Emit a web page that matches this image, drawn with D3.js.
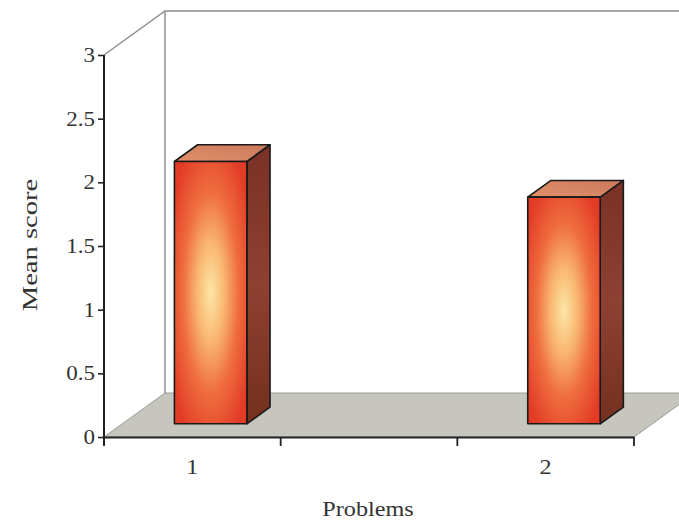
<!DOCTYPE html>
<html>
<head>
<meta charset="utf-8">
<script src="https://cdn.jsdelivr.net/npm/d3@7"></script>
<style>
  html, body { margin: 0; padding: 0; background: #fff; }
  svg { display: block; }
  text { font-family: "Liberation Serif", "Times New Roman", serif; fill: #333; }
</style>
</head>
<body>
<svg id="chart" width="679" height="522"></svg>
<script>
// Chart data
const categories = ["1", "", "2"];
const meanScores = [2.06, null, 1.78];
const yTicks = [0, 0.5, 1, 1.5, 2, 2.5, 3];
const yTickLabels = ["0", "0.5", "1", "1.5", "2", "2.5", "3"];
const xTitle = "Problems";
const yTitle = "Mean score";

const svg = d3.select("#chart");
const W = 679, H = 522;

// Plot frame and oblique depth offset
const plotLeft = 104, plotRight = 634, plotBottom = 437, plotTop = 55;
const DX = 61, DY = -44;          // back-plane shift
const d0 = 0.30, d1 = 0.68;        // bar depth range (fraction of full depth)
const faceFrac = 0.41;             // bar front face width as fraction of band

const x = d3.scaleBand().domain(categories).range([plotLeft, plotRight]).padding(0);
const y = d3.scaleLinear().domain([0, 3]).range([plotBottom, plotTop]);

const defs = svg.append("defs");
const front = defs.append("radialGradient").attr("id", "frontGrad")
  .attr("cx", "50%").attr("cy", "50%").attr("r", "62%");
front.append("stop").attr("offset", "0%").attr("stop-color", "#fde6a6");
front.append("stop").attr("offset", "30%").attr("stop-color", "#f9b772");
front.append("stop").attr("offset", "62%").attr("stop-color", "#ef6d3e");
front.append("stop").attr("offset", "100%").attr("stop-color", "#e23c26");

const side = defs.append("linearGradient").attr("id", "sideGrad")
  .attr("x1", "0").attr("y1", "0").attr("x2", "0").attr("y2", "1");
side.append("stop").attr("offset", "0%").attr("stop-color", "#7a3126");
side.append("stop").attr("offset", "50%").attr("stop-color", "#8e4033");
side.append("stop").attr("offset", "100%").attr("stop-color", "#74301f");

const topG = defs.append("linearGradient").attr("id", "topGrad")
  .attr("x1", "0").attr("y1", "1").attr("x2", "1").attr("y2", "0");
topG.append("stop").attr("offset", "0%").attr("stop-color", "#e3916a");
topG.append("stop").attr("offset", "100%").attr("stop-color", "#c9785c");

const shift = (p, d) => [p[0] + d * DX, p[1] + d * DY];
const poly = pts => pts.map(p => p.join(",")).join(" ");

// Floor
const floorPts = [[plotLeft, y(0)], [plotRight, y(0)], shift([plotRight, y(0)], 1), shift([plotLeft, y(0)], 1)];
svg.append("polygon").attr("points", poly(floorPts))
  .attr("fill", "#c6c6be").attr("stroke", "#9a9a94").attr("stroke-width", 1);

// Back wall edges
const wall = svg.append("g").attr("stroke", "#8c8c8c").attr("stroke-width", 1.4).attr("fill", "none");
const backTopLeft = shift([plotLeft, y(3)], 1);
wall.append("polyline").attr("points", poly([
  [plotLeft, y(3)], backTopLeft, [W + 40, backTopLeft[1]]
]));
wall.append("line")
  .attr("x1", backTopLeft[0]).attr("y1", backTopLeft[1])
  .attr("x2", backTopLeft[0]).attr("y2", y(0) + DY);

// Y axis
const yAxis = d3.axisLeft(y).tickValues(yTicks)
  .tickFormat((d, i) => yTickLabels[i]).tickSize(6).tickSizeOuter(0).tickPadding(3);
const gy = svg.append("g").attr("transform", `translate(${plotLeft},0)`).call(yAxis);
gy.select(".domain").attr("stroke", "#222").attr("stroke-width", 2)
  .attr("d", `M0,${y(3)}V${y(0) + 8}`);
gy.selectAll(".tick line").attr("stroke", "#222").attr("stroke-width", 1.6);
gy.selectAll(".tick text").style("font-size", "20px").attr("fill", "#333");

// X axis
const xAxis = d3.axisBottom(x).tickValues([]).tickSizeOuter(0);
const gx = svg.append("g").attr("transform", `translate(0,${plotBottom})`).call(xAxis);
gx.select(".domain").attr("stroke", "#222").attr("stroke-width", 2);
const boundaries = categories.map(c => x(c) + x.bandwidth()).concat([x(categories[0])]);
gx.selectAll("line.sep").data(boundaries).join("line").attr("class", "sep")
  .attr("x1", d => d).attr("x2", d => d).attr("y1", 0).attr("y2", 9)
  .attr("stroke", "#222").attr("stroke-width", 1.8);
gx.selectAll("text.cat").data(categories).join("text").attr("class", "cat")
  .attr("x", d => x(d) + x.bandwidth() / 2).attr("y", 37)
  .attr("text-anchor", "middle").style("font-size", "21px").text(d => d);

// Bars
const bars = svg.append("g");
categories.forEach((c, i) => {
  const v = meanScores[i];
  if (v == null) return;
  const bw = x.bandwidth();
  const fx0 = x(c) + bw * (0.5 - faceFrac / 2) + d0 * DX;
  const fx1 = fx0 + bw * faceFrac;
  const fyb = y(0) + d0 * DY;
  const fyt = y(v) + d0 * DY;
  const dd = d1 - d0;
  const g = bars.append("g").attr("stroke", "#1a1a1a").attr("stroke-width", 1.6)
    .attr("stroke-linejoin", "round");
  g.append("polygon").attr("fill", "url(#sideGrad)").attr("points", poly([
    [fx1, fyt], shift([fx1, fyt], dd), shift([fx1, fyb], dd), [fx1, fyb]
  ]));
  g.append("polygon").attr("fill", "url(#topGrad)").attr("points", poly([
    [fx0, fyt], shift([fx0, fyt], dd), shift([fx1, fyt], dd), [fx1, fyt]
  ]));
  g.append("rect").attr("fill", "url(#frontGrad)")
    .attr("x", fx0).attr("y", fyt).attr("width", fx1 - fx0).attr("height", fyb - fyt);
});

// Axis titles
svg.append("text").attr("x", 368).attr("y", 516).attr("text-anchor", "middle")
  .style("font-size", "21px").text(xTitle);
svg.append("text").attr("transform", "translate(37,245) rotate(-90)")
  .attr("text-anchor", "middle").style("font-size", "22px").text(yTitle);

// Slightly widen glyph runs
svg.selectAll("text").each(function () {
  const len = this.getComputedTextLength();
  if (len > 0) {
    const k = this.textContent === yTitle ? 1.3 : 1.15;
    d3.select(this).attr("textLength", len * k).attr("lengthAdjust", "spacingAndGlyphs");
  }
});
</script>
</body>
</html>
